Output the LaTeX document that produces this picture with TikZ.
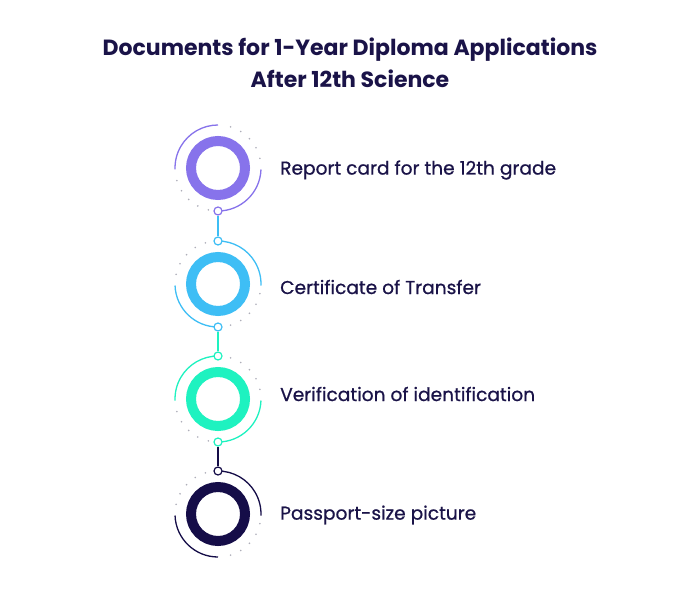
\documentclass[tikz,border=0pt]{standalone}
\usepackage{fontspec}
\setmainfont{Poppins}
\newfontfamily\labelfont{Poppins}[FakeBold=0.7]
\definecolor{cpurple}{HTML}{8773EB}
\definecolor{cblue}{HTML}{3EBEF5}
\definecolor{cteal}{HTML}{1EF2C0}
\definecolor{cnavy}{HTML}{150D48}
\definecolor{ctext}{HTML}{1A1348}
\definecolor{cdot}{HTML}{8C8C9C}
\begin{document}
\begin{tikzpicture}[x=1pt,y=1pt,
  ring/.style={circle, draw=#1, line width=10pt, minimum size=54pt, inner sep=0pt},
  knob/.style={circle, draw=#1, fill=white, line width=1.2pt, minimum size=8pt, inner sep=0pt},
  arcline/.style={draw=#1, line width=1.3pt},
  link/.style={draw=#1, line width=1.5pt},
  dotmark/.style={fill=#1, opacity=0.7},
  label/.style={anchor=west, text=ctext, font=\labelfont\fontsize{18.6}{22}\selectfont, inner sep=0pt},
]
\useasboundingbox (0,0) rectangle (700,600);
\fill[white] (0,0) rectangle (700,600);

\node[text=ctext, font=\fontsize{22}{32}\selectfont\bfseries, align=center] (title) at (350,537)
  {Documents for 1-Year Diploma Applications\\After 12th Science};

% centres
\coordinate (p1) at (218,432);
\coordinate (p2) at (218,316);
\coordinate (p3) at (218,201);
\coordinate (p4) at (218,86);

% rings
\node[ring=cpurple] (c1) at (p1) {};
\node[ring=cblue] (c2) at (p2) {};
\node[ring=cteal] (c3) at (p3) {};
\node[ring=cnavy] (c4) at (p4) {};

% arcs circle 1 (left-top, right-bottom)
\draw[arcline=cpurple] ([shift={(90:43)}]p1) arc[start angle=90, end angle=182, radius=43];
\draw[arcline=cpurple] ([shift={(-2:43)}]p1) arc[start angle=-2, end angle=-90, radius=43];
% circle 2 (right-top, left-bottom)
\draw[arcline=cblue] ([shift={(90:43)}]p2) arc[start angle=90, end angle=-2, radius=43];
\draw[arcline=cblue] ([shift={(182:43)}]p2) arc[start angle=182, end angle=270, radius=43];
% circle 3
\draw[arcline=cteal] ([shift={(90:43)}]p3) arc[start angle=90, end angle=182, radius=43];
\draw[arcline=cteal] ([shift={(-2:43)}]p3) arc[start angle=-2, end angle=-90, radius=43];
% circle 4
\draw[arcline=cnavy] ([shift={(90:43)}]p4) arc[start angle=90, end angle=-2, radius=43];
\draw[arcline=cnavy] ([shift={(182:43)}]p4) arc[start angle=182, end angle=270, radius=43];

% dots
\foreach \a in {13,28,43,58,73,197,212,227,242,257}{
  \fill[dotmark=cdot] ([shift={(\a:43)}]p1) circle (0.9);
  \fill[dotmark=cdot] ([shift={(\a:43)}]p3) circle (0.9);
}
\foreach \a in {107,122,137,152,167,287,302,317,332,347}{
  \fill[dotmark=cdot] ([shift={(\a:43)}]p2) circle (0.9);
  \fill[dotmark=cdot] ([shift={(\a:43)}]p4) circle (0.9);
}

% knobs
\node[knob=cpurple] (k1b) at ([shift={(270:43)}]p1) {};
\node[knob=cblue] (k2t) at ([shift={(90:43)}]p2) {};
\node[knob=cblue] (k2b) at ([shift={(270:43)}]p2) {};
\node[knob=cteal] (k3t) at ([shift={(90:43)}]p3) {};
\node[knob=cteal] (k3b) at ([shift={(270:43)}]p3) {};
\node[knob=cnavy] (k4t) at ([shift={(90:43)}]p4) {};

% links
\draw[link=cblue] (k1b) -- (k2t);
\draw[link=cteal] (k2b) -- (k3t);
\draw[link=cnavy] (k3b) -- (k4t);

% labels
\node[label] (l1) at (280,430) {Report card for the 12th grade};
\node[label] (l2) at (280,313) {Certificate of Transfer};
\node[label] (l3) at (280,206) {Verification of identification};
\node[label] (l4) at (280,85) {Passport-size picture};
\end{tikzpicture}
\end{document}
